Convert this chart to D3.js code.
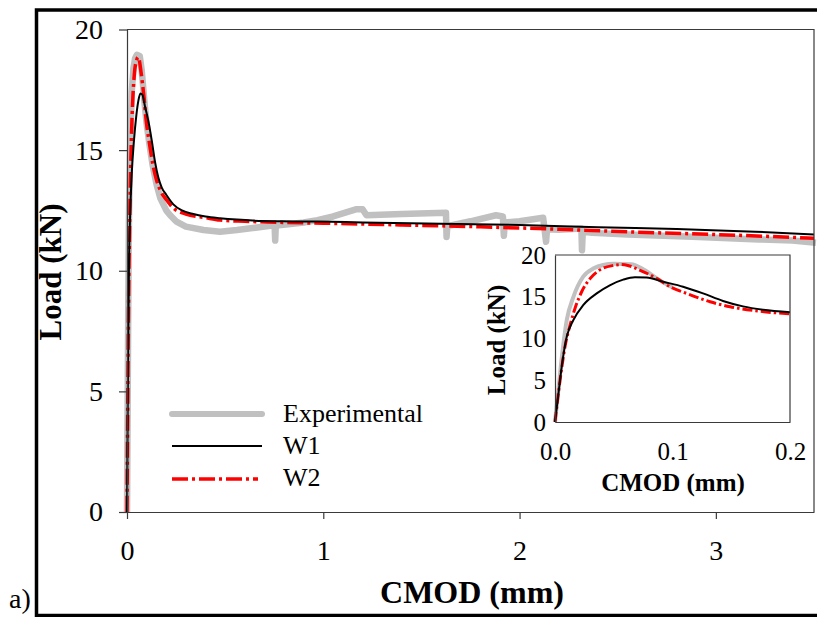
<!DOCTYPE html>
<html>
<head>
<meta charset="utf-8">
<script src="https://cdn.jsdelivr.net/npm/d3@7"></script>
<style>
  body { margin: 0; background: #fff; }
  svg { display: block; }
  text { font-family: "Liberation Serif", "Times New Roman", serif; fill: #000; }
</style>
</head>
<body>
<svg id="chart" width="817" height="617"></svg>
<script>
// Load–CMOD response: test record and two numerical models (W1, W2)
const expCmod = [0, 0.003, 0.006, 0.01, 0.0156, 0.024, 0.033, 0.041, 0.05, 0.065, 0.075, 0.09, 0.1,
  0.115, 0.13, 0.15, 0.17, 0.2, 0.22, 0.25, 0.3, 0.39, 0.474, 0.56, 0.64, 0.73, 0.752, 0.755, 0.758,
  0.81, 0.9, 0.97, 1.05, 1.17, 1.2, 1.22, 1.4, 1.625, 1.628, 1.632, 1.75, 1.88, 1.915, 1.92, 1.925,
  2.0, 2.12, 2.135, 2.14, 2.2, 2.315, 2.318, 2.322, 2.37, 2.55, 2.88, 3.22, 3.39, 3.51];
const expLoad = [0, 4, 8, 12.2, 14.95, 17.4, 18.4, 18.8, 18.95, 18.9, 18.3, 16.9, 16.1,
  15.2, 14.4, 13.6, 13.0, 12.5, 12.3, 12.05, 11.83, 11.69, 11.62, 11.69, 11.77, 11.86, 11.88, 11.25, 11.88,
  11.92, 12.0, 12.1, 12.25, 12.55, 12.55, 12.3, 12.35, 12.4, 11.4, 11.85, 12.05, 12.3, 12.25, 11.45, 12.0,
  12.05, 12.2, 11.2, 11.72, 11.7, 11.75, 10.85, 11.62, 11.57, 11.5, 11.41, 11.3, 11.25, 11.16];

const w1Cmod = [0, 0.003, 0.0057, 0.01, 0.0156, 0.024, 0.0355, 0.047, 0.058, 0.068, 0.078, 0.092, 0.109,
  0.126, 0.143, 0.16, 0.177, 0.2, 0.236, 0.28, 0.338, 0.4, 0.474, 0.56, 0.64, 0.8, 0.97, 1.2, 1.6, 2.0,
  2.4, 2.8, 3.2, 3.5];
const w1Load = [0, 3.5, 6.6, 10.2, 12.2, 14.0, 15.4, 16.4, 17.05, 17.35, 17.3, 16.8, 16.2,
  15.4, 14.5, 13.85, 13.45, 13.15, 12.75, 12.5, 12.35, 12.25, 12.18, 12.12, 12.08, 12.05, 12.04, 12.0, 11.95, 11.9,
  11.8, 11.73, 11.62, 11.5];

const w2Cmod = [0, 0.0043, 0.0085, 0.0128, 0.017, 0.0227, 0.03, 0.038, 0.0496, 0.056, 0.062, 0.072, 0.0865,
  0.098, 0.112, 0.132, 0.149, 0.172, 0.2, 0.236, 0.3, 0.4, 0.474, 0.6, 0.81, 1.0, 1.4, 1.8, 2.2, 2.6, 3.0, 3.5];
const w2Load = [0, 5.0, 9.0, 11.6, 13.6, 15.6, 17.2, 18.2, 18.75, 18.85, 18.75, 18.2, 17.2,
  16.2, 15.4, 14.4, 13.8, 13.3, 12.95, 12.6, 12.35, 12.2, 12.1, 12.05, 12.0, 11.97, 11.9, 11.82, 11.72, 11.6, 11.5, 11.35];

const seriesNames = ["Experimental", "W1", "W2"];
const mainXTicks = [0, 1, 2, 3];
const mainYTicks = [0, 5, 10, 15, 20];
const insetXTicks = [0, 0.1, 0.2];
const insetYTicks = [0, 5, 10, 15, 20];

const zip = (xs, ys) => xs.map((x, i) => [x, ys[i]]);
const expData = zip(expCmod, expLoad);
const w1Data = zip(w1Cmod, w1Load);
const w2Data = zip(w2Cmod, w2Load);

const styles = {
  exp: { stroke: "#c0c0c0", width: 6.5, dash: null },
  w1:  { stroke: "#000000", width: 2, dash: null },
  w2:  { stroke: "#ff0000", width: 3.5, dash: "16,4,3,4" }
};

const svg = d3.select("#chart");

// outer panel border
svg.append("rect")
  .attr("x", 36.5).attr("y", 10).attr("width", 800).attr("height", 605.5)
  .attr("fill", "none").attr("stroke", "#000").attr("stroke-width", 3.5);

svg.append("text").attr("x", 9).attr("y", 608)
  .style("font-size", "28px").text("a)");

// ---------- main plot ----------
const x = d3.scaleLinear().domain([0, 3.5]).range([127, 814]);
const y = d3.scaleLinear().domain([0, 20]).range([512, 29.5]);

const gMain = svg.append("g");

function drawSeries(g, data, st, xs, ys, curve) {
  const line = d3.line().x(d => xs(d[0])).y(d => ys(d[1])).curve(curve);
  const p = g.append("path").datum(data)
    .attr("d", line)
    .attr("fill", "none")
    .attr("stroke", st.stroke)
    .attr("stroke-width", st.width)
    .attr("stroke-linejoin", "round");
  if (st.dash) p.attr("stroke-dasharray", st.dash);
  return p;
}

drawSeries(gMain, expData, styles.exp, x, y, d3.curveLinear);
drawSeries(gMain, w2Data, styles.w2, x, y, d3.curveMonotoneX);
drawSeries(gMain, w1Data, styles.w1, x, y, d3.curveMonotoneX);

// frame (top and right sides)
gMain.append("path")
  .attr("d", `M${x(0)},${y(20)}H${x(3.5)}V${y(0)}`)
  .attr("fill", "none").attr("stroke", "#3a3a3a").attr("stroke-width", 1.2);

const yAxis = d3.axisLeft(y).tickValues(mainYTicks).tickSize(8).tickSizeOuter(0).tickPadding(16)
  .tickFormat(d3.format("d"));
const xAxis = d3.axisBottom(x).tickValues(mainXTicks).tickSize(7).tickSizeOuter(0).tickPadding(21)
  .tickFormat(d3.format("d"));

const gy = gMain.append("g").attr("transform", `translate(${x(0)},0)`).call(yAxis);
const gx = gMain.append("g").attr("transform", `translate(0,${y(0)})`).call(xAxis);
[gx, gy].forEach(g => {
  g.select(".domain").attr("stroke", "#3a3a3a").attr("stroke-width", 1.2);
  g.selectAll(".tick line").attr("stroke", "#3a3a3a").attr("stroke-width", 1.2);
  g.selectAll(".tick text").attr("fill", "#000")
    .style("font-family", '"Liberation Serif","Times New Roman",serif').style("font-size", "28px");
});

svg.append("text")
  .attr("transform", "translate(61,272) rotate(-90)")
  .attr("text-anchor", "middle")
  .style("font-size", "31px").style("font-weight", "bold")
  .text("Load (kN)");

svg.append("text")
  .attr("x", 472).attr("y", 603)
  .attr("text-anchor", "middle")
  .style("font-size", "32px").style("font-weight", "bold")
  .text("CMOD (mm)");

// ---------- legend ----------
const legend = svg.append("g");
const legendKeys = [styles.exp, styles.w1, styles.w2];
const legendY = [414, 446, 479];
const legendBase = [422, 454, 486];
seriesNames.forEach((name, i) => {
  const st = legendKeys[i];
  const ln = legend.append("line")
    .attr("x1", 172).attr("x2", i === 2 ? 258 : 262)
    .attr("y1", legendY[i]).attr("y2", legendY[i])
    .attr("stroke", st.stroke).attr("stroke-width", i === 0 ? 6 : st.width)
    .attr("stroke-linecap", i === 0 ? "round" : "butt");
  if (st.dash) ln.attr("stroke-dasharray", st.dash);
  legend.append("text").attr("x", 283).attr("y", legendBase[i])
    .style("font-size", "26px").text(name);
});

// ---------- inset: initial part of the curves ----------
const xi = d3.scaleLinear().domain([0, 0.2]).range([555, 790]);
const yi = d3.scaleLinear().domain([0, 20]).range([422, 255]);
const gIn = svg.append("g");

gIn.append("rect").attr("x", xi(0)).attr("y", yi(20))
  .attr("width", xi(0.2) - xi(0)).attr("height", yi(0) - yi(20))
  .attr("fill", "#fff");

drawSeries(gIn, expData.filter(d => d[0] <= 0.1), { stroke: "#c0c0c0", width: 4, dash: null }, xi, yi, d3.curveMonotoneX);
drawSeries(gIn, w2Data.filter(d => d[0] <= 0.2), { stroke: "#ff0000", width: 3, dash: "10,3,2.5,3" }, xi, yi, d3.curveMonotoneX);
drawSeries(gIn, w1Data.filter(d => d[0] <= 0.2), { stroke: "#000", width: 2, dash: null }, xi, yi, d3.curveMonotoneX);

gIn.append("path")
  .attr("d", `M${xi(0)},${yi(20)}H${xi(0.2)}V${yi(0)}`)
  .attr("fill", "none").attr("stroke", "#3a3a3a").attr("stroke-width", 1.2);

const yAxisIn = d3.axisLeft(yi).tickValues(insetYTicks).tickSize(0).tickSizeOuter(0).tickPadding(9)
  .tickFormat(d3.format("d"));
const xAxisIn = d3.axisBottom(xi).tickValues(insetXTicks).tickSize(0).tickSizeOuter(0).tickPadding(20)
  .tickFormat(d3.format(".1f"));
const gyi = gIn.append("g").attr("transform", `translate(${xi(0)},0)`).call(yAxisIn);
const gxi = gIn.append("g").attr("transform", `translate(0,${yi(0)})`).call(xAxisIn);
[gxi, gyi].forEach(g => {
  g.select(".domain").attr("stroke", "#3a3a3a").attr("stroke-width", 1.2);
  g.selectAll(".tick text").attr("fill", "#000")
    .style("font-family", '"Liberation Serif","Times New Roman",serif').style("font-size", "25px");
});

svg.append("text")
  .attr("transform", "translate(505,340) rotate(-90)")
  .attr("text-anchor", "middle")
  .style("font-size", "25px").style("font-weight", "bold")
  .text("Load (kN)");

svg.append("text")
  .attr("x", 673).attr("y", 491)
  .attr("text-anchor", "middle")
  .style("font-size", "25px").style("font-weight", "bold")
  .text("CMOD (mm)");
</script>
</body>
</html>
